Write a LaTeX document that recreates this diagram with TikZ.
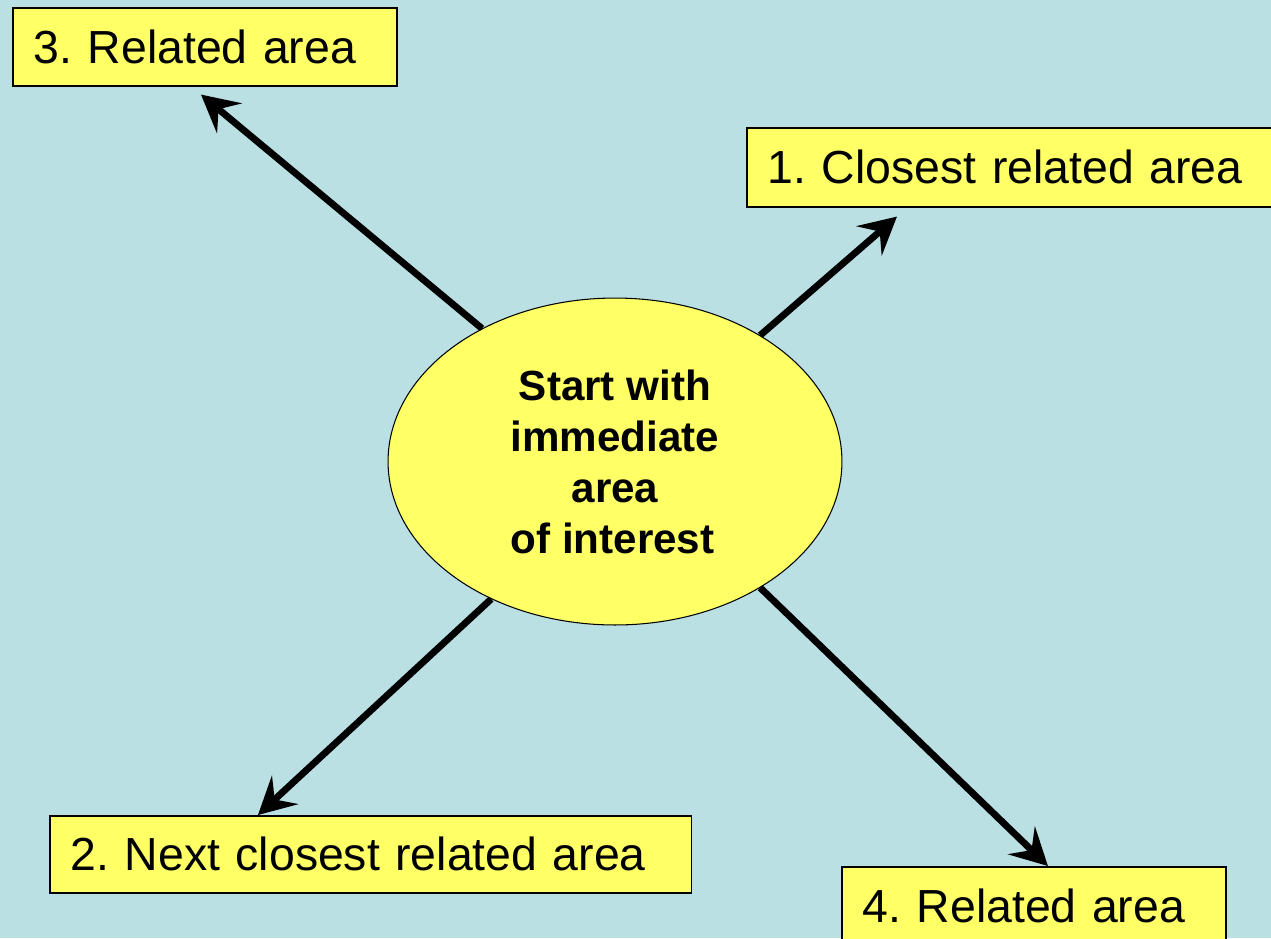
\documentclass[tikz,border=0pt]{standalone}
\usepackage{fontspec}
\setmainfont{Liberation Sans}
\usetikzlibrary{arrows.meta,shapes.geometric}
\definecolor{bgblue}{RGB}{186,224,228}
\definecolor{boxyellow}{RGB}{255,255,102}
\frenchspacing
\tikzset{
  areabox/.style={draw,line width=0.9pt,fill=boxyellow,anchor=north west,
    inner xsep=0.42cm,inner ysep=0pt,align=left,
    font=\fontsize{26.4}{32}\selectfont},
  arr/.style={line width=3.9pt,-{Stealth[length=21pt,width=22pt,inset=8pt]}}
}
\begin{document}
\begin{tikzpicture}[x=0.02cm,y=-0.02cm]
\fill[bgblue] (0,0) rectangle (1271,938);
\useasboundingbox (0,0) rectangle (1271,938);
\clip (0,0) rectangle (1271,938);
% the four boxes
\node[areabox,text width=6.84cm,minimum height=1.56cm] (b3) at (12,7) {3. Related area};
\node[areabox,text width=10.0cm,minimum height=1.58cm] (b1) at (746,127) {1. Closest related area};
\node[areabox,text width=12.0cm,minimum height=1.54cm] (b2) at (49,815) {2. Next closest related area};
\node[areabox,text width=6.84cm,minimum height=1.56cm] (b4) at (841,866) {4. Related area};
% centre
\node[ellipse,draw,line width=0.6pt,fill=boxyellow,minimum width=9.08cm,minimum height=6.54cm,
  inner sep=0pt,align=center,font=\fontsize{24}{29}\selectfont\bfseries] (start) at (615,461.5)
  {Start with\\immediate\\area\\ of interest\hspace*{0.1cm}};
% arrows
\draw[arr] (start.41) -- ([xshift=3.02cm,yshift=-0.18cm]b1.south west);
\draw[arr] (start.135) -- ([xshift=3.78cm,yshift=-0.16cm]b3.south west);
\draw[arr] (start.228) -- ([xshift=4.18cm]b2.north west);
\draw[arr] (start.319) -- ([xshift=4.14cm]b4.north west);
\end{tikzpicture}
\end{document}
